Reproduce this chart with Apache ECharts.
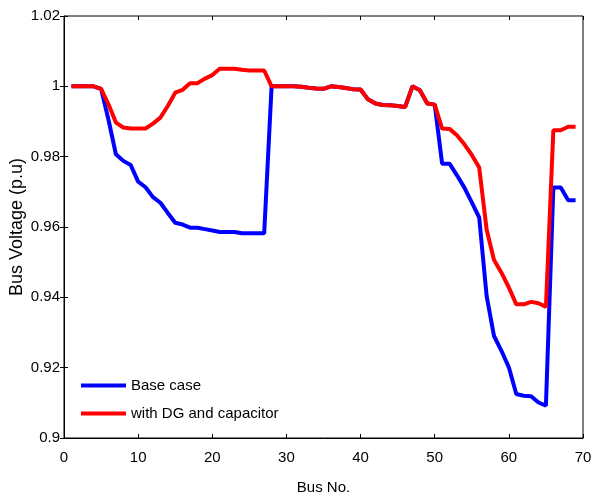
<!DOCTYPE html>
<html>
<head>
<meta charset="utf-8">
<script src="https://cdn.jsdelivr.net/npm/echarts@6/dist/echarts.min.js"></script>
<style>
  html, body { margin: 0; padding: 0; background: #fff; }
  #chart-container { width: 592px; height: 493px; }
</style>
</head>
<body>
<div id="chart-container"></div>
<script>
var dom = document.getElementById("chart-container");
var myChart = echarts.init(dom, null, { renderer: "canvas" });

const busNo = [];
for (let i = 1; i <= 69; i++) busNo.push(i);

// voltage, bus 1..69
const baseCase = [
  1.0, 1.0, 1.0, 1.0, 0.9993, 0.9905, 0.9807, 0.9788, 0.9776, 0.9729,
  0.9713, 0.9685, 0.9669, 0.964, 0.9612, 0.9607, 0.9598, 0.9598, 0.9594, 0.959,
  0.9586, 0.9586, 0.9586, 0.9582, 0.9582, 0.9582, 0.9582, 1.0, 1.0, 1.0,
  1.0, 0.9999, 0.9996, 0.9994, 0.9993, 1.0, 0.9998, 0.9995, 0.9992, 0.9991,
  0.9963, 0.9951, 0.9947, 0.9946, 0.9944, 0.9941, 1.0, 0.9989, 0.9951, 0.9948,
  0.978, 0.978, 0.9747, 0.9712, 0.967, 0.9627, 0.9404, 0.929, 0.9248, 0.9201,
  0.9125, 0.912, 0.9119, 0.9101, 0.9092, 0.9712, 0.9712, 0.9676, 0.9676,
];

const withDG = [
  1.0, 1.0, 1.0, 1.0, 0.9993, 0.9949, 0.9897, 0.9883, 0.988, 0.988,
  0.988, 0.9894, 0.9911, 0.9944, 0.9982, 0.999, 1.0009, 1.0009, 1.0022, 1.0032,
  1.005, 1.005, 1.005, 1.0047, 1.0045, 1.0045, 1.0045, 1.0, 1.0, 1.0,
  1.0, 0.9999, 0.9996, 0.9994, 0.9993, 1.0, 0.9998, 0.9995, 0.9992, 0.9991,
  0.9963, 0.9951, 0.9947, 0.9946, 0.9944, 0.9941, 1.0, 0.9989, 0.9951, 0.9948,
  0.988, 0.9879, 0.9861, 0.9835, 0.9805, 0.9769, 0.9593, 0.9506, 0.947, 0.9428,
  0.938, 0.938, 0.9387, 0.9383, 0.9373, 0.9875, 0.9875, 0.9885, 0.9885,
];

const yTicks = ["0.9", "0.92", "0.94", "0.96", "0.98", "1", "1.02"];

const font = "'Liberation Sans', Arial, sans-serif";

function pairs(ys) {
  return busNo.map((x, i) => [x, ys[i]]);
}

const hiddenAxis = {
  axisLabel: { show: false },
  axisLine: { show: false },
  splitLine: { show: false },
  axisTick: { inside: true, length: 4, lineStyle: { color: "#000" } },
};

var option = {
  animation: false,
  backgroundColor: "#fff",
  grid: {
    left: 64,
    right: 9,
    top: 16,
    bottom: 55,
    show: true,
    borderColor: "#000",
    borderWidth: 1,
    outerBoundsMode: "none",
  },
  legend: {
    orient: "vertical",
    left: 81,
    top: 378,
    padding: 0,
    icon: "rect",
    itemWidth: 45,
    itemHeight: 4,
    itemGap: 13,
    itemTextGap: 5,
    textStyle: { fontFamily: font, fontSize: 15, color: "#000" },
    data: ["Base case", "with DG and capacitor"],
  },
  xAxis: [
    {
      type: "value",
      min: 0,
      max: 70,
      interval: 10,
      name: "Bus No.",
      nameLocation: "middle",
      nameGap: 42,
      nameMoveOverlap: false,
      nameTextStyle: { fontFamily: font, fontSize: 15, color: "#000" },
      axisLine: { lineStyle: { color: "#000" } },
      axisTick: { inside: true, length: 4, lineStyle: { color: "#000" } },
      axisLabel: { fontFamily: font, fontSize: 15, color: "#000", margin: 12 },
      splitLine: { show: false },
    },
    Object.assign({ type: "value", position: "top", min: 0, max: 70, interval: 10 }, hiddenAxis),
  ],
  yAxis: [
    {
      type: "value",
      min: 0.9,
      max: 1.02,
      interval: 0.02,
      name: "Bus Voltage (p.u)",
      nameLocation: "middle",
      nameGap: 38,
      nameMoveOverlap: false,
      nameTextStyle: { fontFamily: font, fontSize: 18, color: "#000" },
      axisLine: { lineStyle: { color: "#000" } },
      axisTick: { inside: true, length: 4, lineStyle: { color: "#000" } },
      axisLabel: {
        fontFamily: font,
        fontSize: 15,
        color: "#000",
        margin: 4,
        formatter: function (v) {
          return yTicks[Math.round((v - 0.9) / 0.02)];
        },
      },
      splitLine: { show: false },
    },
    Object.assign({ type: "value", position: "right", min: 0.9, max: 1.02, interval: 0.02 }, hiddenAxis),
  ],
  series: [
    {
      name: "Base case",
      type: "line",
      data: pairs(baseCase),
      showSymbol: false,
      itemStyle: { color: "#0000ff" },
      lineStyle: { color: "#0000ff", width: 4 },
    },
    {
      name: "with DG and capacitor",
      type: "line",
      data: pairs(withDG),
      showSymbol: false,
      itemStyle: { color: "#ff0000" },
      lineStyle: { color: "#ff0000", width: 4 },
    },
  ],
};

myChart.setOption(option);
window.addEventListener("resize", myChart.resize);
</script>
</body>
</html>
